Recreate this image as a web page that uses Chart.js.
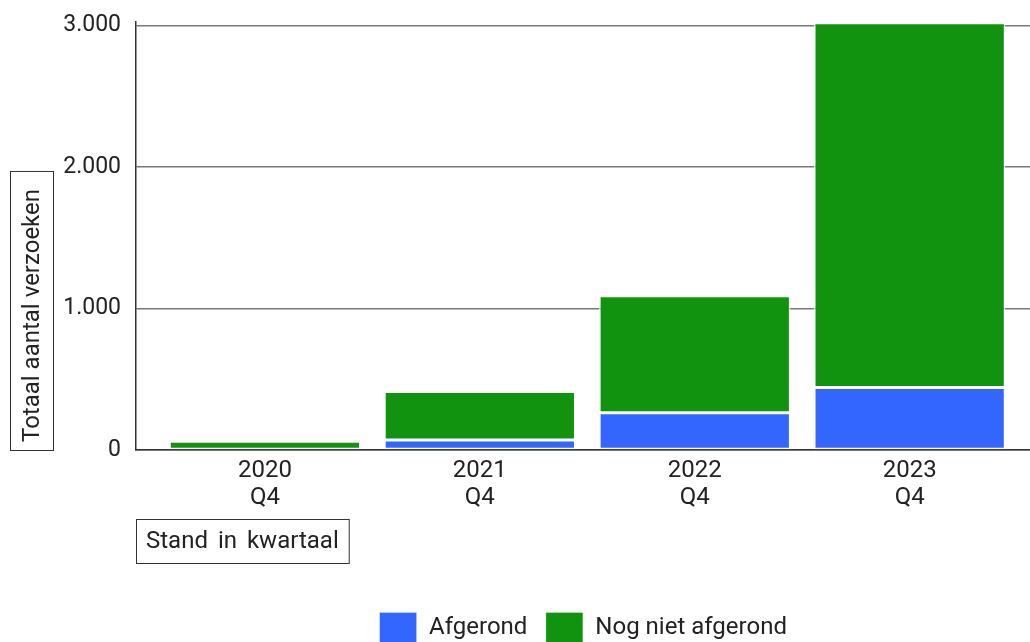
<!DOCTYPE html>
<html>
<head>
<meta charset="utf-8">
<script src="https://cdn.jsdelivr.net/npm/chart.js@4.4.1/dist/chart.umd.min.js"></script>
<style>
  html, body { margin: 0; padding: 0; background: #fff; }
  #wrap { width: 1030px; height: 642px; }
</style>
</head>
<body>
<div id="wrap"><canvas id="chart"></canvas></div>
<script>
'use strict';

const quarters = [['2020', 'Q4'], ['2021', 'Q4'], ['2022', 'Q4'], ['2023', 'Q4']];
const afgerond = [0, 71, 264, 441];
const nogNietAfgerond = [62, 342, 826, 2579];
const yTicks = [0, 1000, 2000, 3000];

const COLORS = {
  blue: '#3366ff',
  green: '#11930f',
  text: '#222222',
  grid: '#787878',
  axis: '#333333'
};

const FONT = 'Roboto, "Noto Sans", sans-serif';
Chart.defaults.font.family = FONT;
Chart.defaults.font.size = 24;
Chart.defaults.color = COLORS.text;

function fmt(v) {
  return String(v).replace(/\B(?=(\d{3})+(?!\d))/g, '.');
}

// boxed axis titles, drawn by hand
const axisTitles = {
  id: 'axisTitles',
  afterDraw(chart) {
    const { ctx, chartArea } = chart;
    ctx.save();
    ctx.font = '24px ' + FONT;
    ctx.fillStyle = COLORS.text;
    ctx.strokeStyle = COLORS.axis;
    ctx.lineWidth = 1;
    ctx.textBaseline = 'middle';
    ctx.textAlign = 'center';

    // y title, rotated
    const yText = 'Totaal aantal verzoeken';
    const yw = ctx.measureText(yText).width + 26;
    ctx.strokeRect(10.5, chartArea.bottom - yw + 0.5, 43, yw);
    ctx.translate(32, chartArea.bottom - yw / 2 + 5);
    ctx.rotate(-Math.PI / 2);
    ctx.fillText(yText, 0, 1);
    ctx.restore();

    // x title
    ctx.save();
    ctx.font = '24px ' + FONT;
    ctx.fillStyle = COLORS.text;
    ctx.strokeStyle = COLORS.axis;
    ctx.lineWidth = 1;
    ctx.textBaseline = 'middle';
    ctx.textAlign = 'center';
    if ('wordSpacing' in ctx) ctx.wordSpacing = '4px';
    const xText = 'Stand in kwartaal';
    const xw = ctx.measureText(xText).width + 20;
    const left = chartArea.left;
    ctx.strokeRect(left + 0.5, 519.5, xw, 44);
    ctx.fillText(xText, left + xw / 2, 542);
    ctx.restore();
  }
};

new Chart(document.getElementById('chart'), {
  type: 'bar',
  data: {
    datasets: [
      {
        label: 'Afgerond',
        data: afgerond.map((v, i) => ({ x: i, y: v })),
        backgroundColor: COLORS.blue,
        borderColor: 'rgba(255,255,255,0.85)',
        borderWidth: 1.5,
        borderSkipped: false
      },
      {
        label: 'Nog niet afgerond',
        data: nogNietAfgerond.map((v, i) => ({ x: i, y: v })),
        backgroundColor: COLORS.green,
        borderColor: 'rgba(255,255,255,0.85)',
        borderWidth: 1.5,
        borderSkipped: false
      }
    ]
  },
  options: {
    responsive: true,
    maintainAspectRatio: false,
    animation: false,
    layout: { padding: { top: 22, left: 0, right: 0, bottom: -12 } },
    barPercentage: 0.89,
    categoryPercentage: 1,
    scales: {
      x: {
        type: 'linear',
        stacked: true,
        offset: false,
        min: -0.6,
        max: 3.56,
        grid: { display: false, drawTicks: false },
        border: { display: true, color: COLORS.axis, width: 1.5 },
        afterBuildTicks: s => { s.ticks = quarters.map((_, i) => ({ value: i })); },
        afterFit: s => { s.height = 144; s.paddingLeft = 0; s.paddingRight = 0; },
        ticks: {
          padding: 8,
          maxRotation: 0,
          autoSkip: false,
          color: COLORS.text,
          font: { size: 24, lineHeight: 1.1 },
          callback: v => quarters[v] || ''
        }
      },
      y: {
        stacked: true,
        min: 0,
        max: 3025,
        grid: { color: COLORS.grid, lineWidth: 1.5, drawTicks: false },
        border: { display: true, color: COLORS.axis, width: 1.5 },
        afterBuildTicks: s => { s.ticks = yTicks.map(v => ({ value: v })); },
        afterFit: s => { s.width = 136; s.paddingTop = 0; s.paddingBottom = 0; },
        ticks: {
          padding: 15,
          color: COLORS.text,
          font: { size: 23 },
          callback: v => fmt(v)
        }
      }
    },
    plugins: {
      legend: {
        position: 'bottom',
        fullSize: false,
        labels: {
          boxWidth: 38,
          boxHeight: 32,
          padding: 18,
          color: COLORS.text,
          font: { size: 24 }
        }
      },
      tooltip: { enabled: false }
    }
  },
  plugins: [axisTitles]
});
</script>
</body>
</html>
